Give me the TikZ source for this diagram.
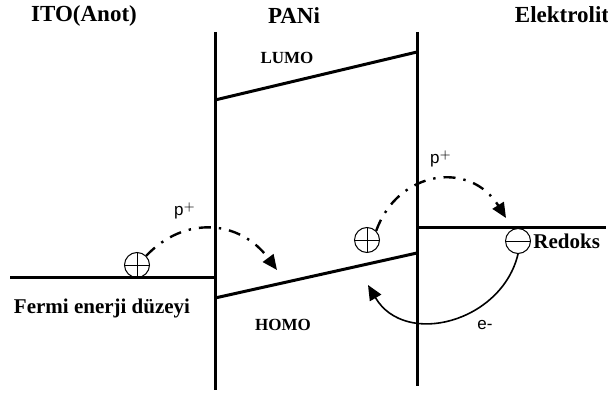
\documentclass[tikz,border=0pt]{standalone}
\usepackage{fontspec}
\setmainfont{Liberation Serif}
\setsansfont{Liberation Sans}
\usetikzlibrary{
  arrows.meta,
  positioning
}
\tikzset{
titlelabel/.style={
  font=\bfseries\fontsize{11.5}{13}\selectfont
},
levellabel/.style={
  font=\bfseries\fontsize{8.5}{10}\selectfont
},
sidelabel/.style={
  font=\bfseries\fontsize{10.5}{12}\selectfont
},
carrierlabel/.style={
  font=\sffamily\fontsize{8.5}{10}\selectfont
},
band/.style={
  line width=1.5pt
},
charge/.style={
  draw,
  circle,
  line width=0.5pt,
  minimum size=12.5pt,
  inner sep=0pt
},
hole/.style={
  charge,
  path picture={
    \draw[line width=0.5pt] (path picture bounding box.north) -- (path picture bounding box.south)
      (path picture bounding box.west) -- (path picture bounding box.east);
  }
},
electron/.style={
  charge,
  path picture={
    \draw[line width=0.5pt] (path picture bounding box.west) -- (path picture bounding box.east);
  }
},
hopping/.style={
  -{Triangle[length=7.5pt,width=6.5pt]},
  line width=1.2pt,
  dash pattern=on 6pt off 4pt on 1.2pt off 4pt
},
electronflow/.style={
  -{Triangle[length=7.5pt,width=6.5pt]},
  line width=0.8pt
}
}

\begin{document}
\begin{tikzpicture}[x=0.5pt, y=-0.5pt]
  \useasboundingbox (0,0) rectangle (608,400);

  % Titles
  \node[titlelabel] (ito) at (84,16) {ITO(Anot)};
  \node[titlelabel] (pani) at (294,16) {PANi};
  \node[titlelabel] (elec) at (562,15) {Elektrolit};

  % Interfaces
  \coordinate (leftTop) at (215,32);
  \coordinate (leftBot) at (215,390);
  \coordinate (rightTop) at (417,32);
  \coordinate (rightBot) at (417,386);
  \draw[band] (leftTop) -- (leftBot);
  \draw[band] (rightTop) -- (rightBot);

  % PANi levels
  \coordinate (lumoL) at (215,100);
  \coordinate (lumoR) at (417,52);
  \coordinate (homoL) at (215,298);
  \coordinate (homoR) at (417,253);
  \draw[band] (lumoL) -- (lumoR);
  \draw[band] (homoL) -- (homoR);
  \node[levellabel] (lumo) at (287,58) {LUMO};
  \node[levellabel] (homo) at (283,325) {HOMO};

  % Fermi level and redox level
  \coordinate (fermiL) at (10,277);
  \coordinate (fermiR) at (215,277);
  \coordinate (redoxL) at (417,227);
  \coordinate (redoxR) at (606,227);
  \draw[band] (fermiL) -- (fermiR);
  \draw[band] (redoxL) -- (redoxR);
  \node[sidelabel] (fermi) at (102,308) {Fermi enerji düzeyi};

  % Charges
  \node[hole] (plusA) at (137,265) {};
  \node[hole] (plusB) at (367,240) {};
  \node[electron] (minus) at (518,241) {};
  \node[sidelabel, anchor=west, inner sep=1pt] (redoks) at (minus.east) {Redoks};

  % Hole transfer
  \coordinate (tipA) at (277,270);
  \coordinate (tipB) at (506,218);
  \draw[hopping] (plusA.north east) .. controls (185,215) and (240,220) .. (tipA);
  \draw[hopping] (plusB.north east) .. controls (398,170) and (470,160) .. (tipB);
  \node[carrierlabel] (pA) at (185,211) {p$^{+}$};
  \node[carrierlabel] (pB) at (441,159) {p$^{+}$};

  % Electron back transfer
  \coordinate (tipE) at (368,285);
  \draw[electronflow] (minus.south) .. controls (502,322) and (405,348) .. (tipE);
  \node[carrierlabel] (eM) at (485,325) {e-};
\end{tikzpicture}
\end{document}
